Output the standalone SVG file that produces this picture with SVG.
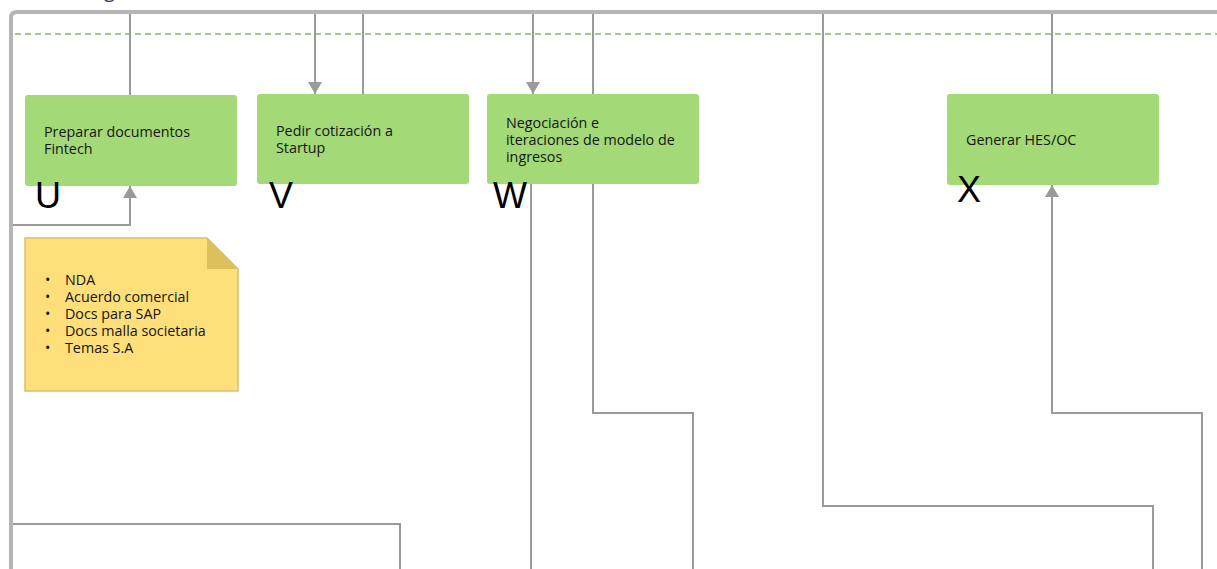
<svg xmlns="http://www.w3.org/2000/svg" width="1217" height="569" viewBox="0 0 1217 569">
<defs>
<style>
.node{fill:#a3d977;}
.lbl{font-family:"Open Sans","Noto Sans",sans-serif;font-size:14.3px;fill:#151515;}
.big{font-family:"Liberation Sans",Arial,sans-serif;font-size:36px;fill:#000;}
.conn{fill:none;stroke:#9a9a9a;stroke-width:2;}
</style>
<marker id="arr" viewBox="0 0 12 14" refX="12" refY="7" markerWidth="12" markerHeight="14" markerUnits="userSpaceOnUse" orient="auto">
<path d="M0,0 L12,7 L0,14 Z" fill="#9a9a9a"/>
</marker>
</defs>
<rect width="1217" height="569" fill="#ffffff"/>
<text x="104" y="-3" font-family="Open Sans, sans-serif" font-size="20" fill="#2c3e6e">g</text>
<g id="frame">
<path d="M11,569 L11,18 Q11,12 17,12 L1217,12" fill="none" stroke="#b5b5b5" stroke-width="4"/>
<line x1="15" y1="34" x2="1217" y2="34" stroke="#8bb35e" stroke-width="1.6" stroke-dasharray="6,4"/>
</g>
<g id="connectors">
<path class="conn" d="M130,14 L130,95"/>
<path class="conn" d="M315,14 L315,94" marker-end="url(#arr)"/>
<path class="conn" d="M363,14 L363,94"/>
<path class="conn" d="M533,14 L533,94" marker-end="url(#arr)"/>
<path class="conn" d="M593,14 L593,94"/>
<path class="conn" d="M593,184 L593,413 L693,413 L693,569"/>
<path class="conn" d="M823,14 L823,506 L1153,506 L1153,569"/>
<path class="conn" d="M1052,14 L1052,94"/>
<path class="conn" d="M1202,569 L1202,413 L1052,413 L1052,185" marker-end="url(#arr)"/>
<path class="conn" d="M13,225 L130,225 L130,186" marker-end="url(#arr)"/>
<path class="conn" d="M531,184 L531,569"/>
<path class="conn" d="M13,524 L400,524 L400,569"/>
</g>
<g id="node-U">
<rect class="node" x="25" y="95" width="212" height="91" rx="3"/>
<text class="lbl" x="44" y="137">Preparar documentos</text>
<text class="lbl" x="44" y="154">Fintech</text>
<text class="big" x="35" y="208">U</text>
</g>
<g id="node-V">
<rect class="node" x="257" y="94" width="212" height="90" rx="3"/>
<text class="lbl" x="276" y="136">Pedir cotización a</text>
<text class="lbl" x="276" y="153">Startup</text>
<text class="big" x="269" y="208">V</text>
</g>
<g id="node-W">
<rect class="node" x="487" y="94" width="212" height="90" rx="3"/>
<text class="lbl" x="506" y="127.5">Negociación e</text>
<text class="lbl" x="506" y="145">iteraciones de modelo de</text>
<text class="lbl" x="506" y="162">ingresos</text>
<text class="big" x="493" y="208">W</text>
</g>
<g id="node-X">
<rect class="node" x="947" y="94" width="212" height="91" rx="3"/>
<text class="lbl" x="966" y="145">Generar HES/OC</text>
<text class="big" x="957" y="202">X</text>
</g>
<g id="note">
<path d="M25,238 L207,238 L238,269 L238,391 L25,391 Z" fill="#ffdf7a" stroke="#d8c070" stroke-width="1.5"/>
<path d="M207,238 L207,269 L238,269 Z" fill="#dcc05c"/>
<g class="lbl">
<text x="45" y="285">•</text><text x="65" y="285">NDA</text>
<text x="45" y="302">•</text><text x="65" y="302">Acuerdo comercial</text>
<text x="45" y="319">•</text><text x="65" y="319">Docs para SAP</text>
<text x="45" y="336">•</text><text x="65" y="336">Docs malla societaria</text>
<text x="45" y="353">•</text><text x="65" y="353">Temas S.A</text>
</g>
</g>
</svg>
